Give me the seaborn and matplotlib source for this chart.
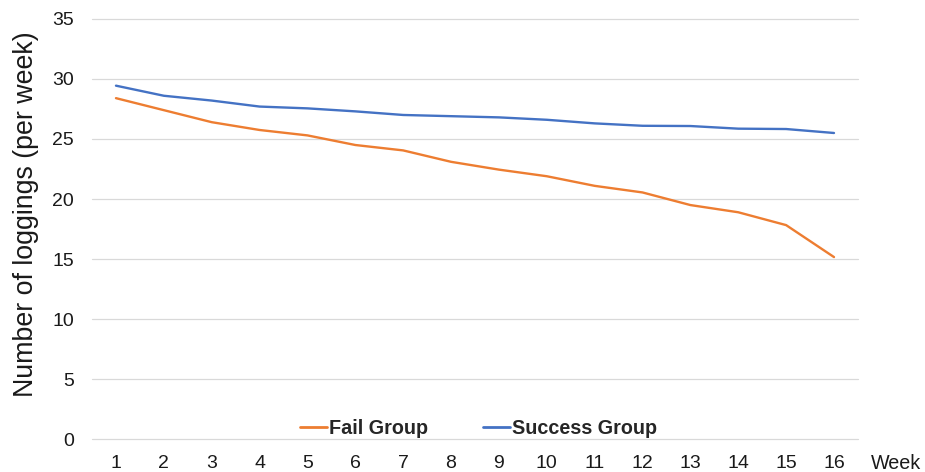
import matplotlib
matplotlib.use("Agg")
import matplotlib.pyplot as plt
import seaborn as sns
import pandas as pd

weeks = list(range(1, 17))
fail_group = [28.4, 27.4, 26.4, 25.75, 25.3, 24.5, 24.05, 23.1, 22.45, 21.9,
              21.1, 20.55, 19.5, 18.9, 17.83, 15.17]
success_group = [29.44, 28.6, 28.2, 27.7, 27.55, 27.3, 27.0, 26.9, 26.8, 26.6,
                 26.3, 26.1, 26.08, 25.86, 25.83, 25.5]
series_names = ["Fail Group", "Success Group"]
y_ticks = [0, 5, 10, 15, 20, 25, 30, 35]

df = pd.DataFrame({
    "week": weeks * 2,
    "loggings": fail_group + success_group,
    "group": [series_names[0]] * len(weeks) + [series_names[1]] * len(weeks),
})

sns.set_theme(style="white")
plt.rcParams["font.family"] = ["Liberation Sans", "DejaVu Sans"]

fig = plt.figure(figsize=(9.25, 4.72), dpi=100)
ax = fig.add_axes([0.0995, 0.0693, 0.828, 0.8907])

palette = {series_names[0]: "#ED7D31", series_names[1]: "#4472C4"}
sns.lineplot(data=df, x="week", y="loggings", hue="group", palette=palette,
             linewidth=1.7, ax=ax, legend=True)

ax.set_xlim(0.5, 16.5)
ax.set_ylim(0, 35)
ax.set_yticks(y_ticks)
ax.set_xticks(weeks)
ax.tick_params(axis="both", length=0, labelsize=14, colors="#1a1a1a")
ax.tick_params(axis="x", pad=11)
ax.tick_params(axis="y", pad=13)
ax.grid(axis="y", color="#D9D9D9", linewidth=0.9)
for gl in ax.get_ygridlines():
    gl.set_clip_on(False)
ax.set_axisbelow(True)
for side in ["left", "right", "top", "bottom"]:
    ax.spines[side].set_visible(False)

ax.set_xlabel("")
ax.set_ylabel("Number of loggings (per week)", fontsize=19.3, color="#1a1a1a")
ax.yaxis.set_label_coords(-0.069, 0.536)
ax.text(1.0165, -0.0564, "Week", transform=ax.transAxes, fontsize=14.2,
        color="#1a1a1a", ha="left", va="center")

leg = ax.legend(loc="center", bbox_to_anchor=(0.5046, 0.025), ncol=2, frameon=False,
                prop={"weight": "bold", "size": 14.2}, handlelength=1.34,
                handletextpad=0.1, columnspacing=2.8, borderpad=0)
for line in leg.get_lines():
    line.set_linewidth(2.0)

fig.savefig("out.png", dpi=100)
